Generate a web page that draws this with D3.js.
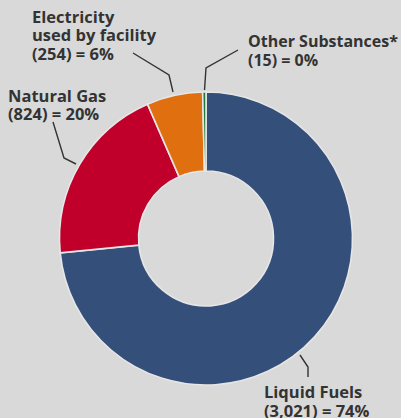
<!DOCTYPE html>
<html><head><meta charset="utf-8">
<script src="https://cdn.jsdelivr.net/npm/d3@7"></script>
<style>
html,body{margin:0;padding:0;background:#d9d9d9;}
svg{display:block;}
text{font-family:"Open Sans","Lato",sans-serif;font-weight:700;fill:#333;}
</style></head>
<body>
<script>
const categories = ["Liquid Fuels", "Natural Gas", "Electricity used by facility", "Other Substances*"];
const values = [3021, 824, 254, 15];
const percentLabels = ["74%", "20%", "6%", "0%"];
const valueLabels = ["3,021", "824", "254", "15"];
const colors = ["#34507a", "#c0002a", "#e0700f", "#1d7a3c"];

const W = 401, H = 418;
const cx = 206, cy = 238.5, rOuter = 146.5, rInner = 67.5;

const svg = d3.select("body").append("svg").attr("width", W).attr("height", H);
svg.append("rect").attr("width", W).attr("height", H).attr("fill", "#d9d9d9");

const pie = d3.pie().sort(null).value(d => d)(values);
const arc = d3.arc().innerRadius(rInner).outerRadius(rOuter);
const g = svg.append("g").attr("transform", `translate(${cx},${cy})`);
g.selectAll("path").data(pie).join("path")
  .attr("d", arc)
  .attr("fill", (d, i) => colors[i])
  .attr("stroke", "#e6e6e6")
  .attr("stroke-width", 1.6);

const labelLines = [
  ["Liquid Fuels", `(${valueLabels[0]}) = ${percentLabels[0]}`],
  ["Natural Gas", `(${valueLabels[1]}) = ${percentLabels[1]}`],
  ["Electricity", "used by facility", `(${valueLabels[2]}) = ${percentLabels[2]}`],
  ["Other Substances*", `(${valueLabels[3]}) = ${percentLabels[3]}`]
];
const labelPos = [[264, 398.3], [8, 101.5], [32, 22.7], [248, 47.2]];
const labelSize = [16.5, 16.5, 16.5, 16];
const leaders = [
  [[308, 377], [308, 367], [300, 355]],
  [[76, 164], [64, 158], [53, 122]],
  [[173, 92], [169, 75], [133, 53]],
  [[204.5, 90], [206, 68], [238, 50]]
];
const lineH = 18.6;

labelLines.forEach((lines, i) => {
  const t = svg.append("text").attr("x", labelPos[i][0]).attr("y", labelPos[i][1]).attr("font-size", labelSize[i]);
  lines.forEach((l, j) => {
    t.append("tspan").attr("x", labelPos[i][0]).attr("y", labelPos[i][1] + j * lineH).text(l);
  });
  svg.append("path").attr("d", d3.line()(leaders[i]))
    .attr("fill", "none").attr("stroke", "#333").attr("stroke-width", 1.4);
});
</script>
</body></html>
